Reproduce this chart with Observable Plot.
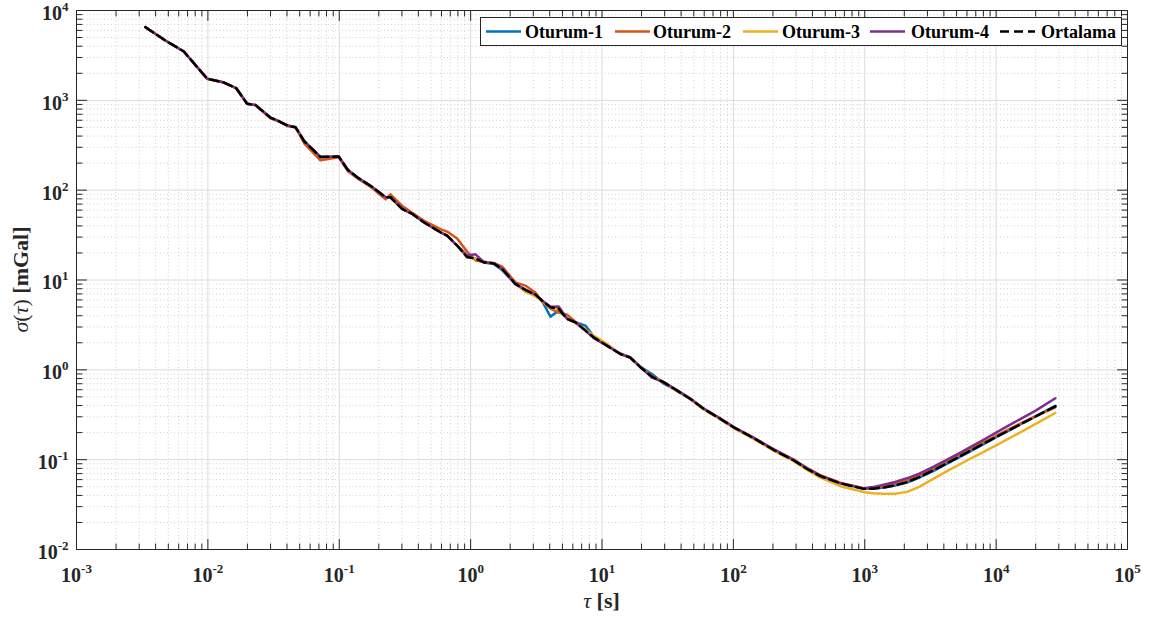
<!DOCTYPE html>
<html>
<head>
<meta charset="utf-8">
<script src="https://cdn.jsdelivr.net/npm/d3@7"></script>
<script src="https://cdn.jsdelivr.net/npm/@observablehq/plot@0.6"></script>
<style>
  html, body { margin: 0; padding: 0; background: #fff; }
  #chart svg { display: block; }
</style>
</head>
<body>
<div id="chart"></div>
<script>
// ---------------- data ----------------
const tau = [0.00335, 0.00475, 0.00656, 0.0099, 0.0130, 0.0164, 0.0199, 0.0230, 0.0299, 0.0351,
  0.0404, 0.0465, 0.0543, 0.0719, 0.099, 0.1164, 0.140, 0.176, 0.225, 0.2455,
  0.301, 0.359, 0.440, 0.589, 0.662, 0.789, 0.94, 1.09, 1.26, 1.50,
  1.74, 2.19, 2.61, 3.11, 3.50, 4.05, 4.68, 5.42, 6.28, 7.48,
  8.65, 10.9, 13.8, 16.4, 19.6, 24.0, 29.5, 37.3, 47.1, 59.4,
  79.6, 100.5, 143, 203, 288, 364, 459, 652, 982, 1150,
  1393, 1700, 2099, 2600, 3345, 4200, 5345, 6400, 7585, 8800,
  10160, 12500, 15280, 20000, 28240];

const ortalama = [6520, 4634, 3495, 1735, 1591, 1371, 915, 887, 643, 581,
  524, 501, 348, 234, 237, 168, 136, 110, 83.4, 83.4,
  61.9, 54.5, 43.9, 34.0, 31.2, 24.2, 18.0, 17.3, 15.7, 15.3,
  13.3, 9.05, 7.76, 6.88, 5.90, 4.97, 4.77, 3.69, 3.38, 2.73,
  2.30, 1.86, 1.50, 1.37, 1.07, 0.84, 0.726, 0.586, 0.474, 0.367,
  0.284, 0.229, 0.173, 0.128, 0.098, 0.0787, 0.0655, 0.0545, 0.0473, 0.0474,
  0.0490, 0.0518, 0.0562, 0.0640, 0.0764, 0.0908, 0.1096, 0.1262, 0.1442, 0.1618,
  0.181, 0.212, 0.247, 0.303, 0.393];

const oturum1 = [6520, 4634, 3495, 1735, 1591, 1371, 915, 887, 643, 581,
  524, 501, 348, 234, 237, 168, 136, 110, 83.4, 83.4,
  61.9, 54.5, 43.9, 34.0, 31.2, 24.2, 18.0, 17.3, 15.7, 15.1,
  12.8, 9.0, 7.8, 6.9, 5.8, 3.91, 4.55, 3.75, 3.40, 3.11,
  2.35, 1.86, 1.52, 1.37, 1.08, 0.90, 0.70, 0.586, 0.474, 0.367,
  0.284, 0.229, 0.173, 0.128, 0.098, 0.0787, 0.0655, 0.0545, 0.0475, 0.0476,
  0.0489, 0.0515, 0.0557, 0.0632, 0.0752, 0.0895, 0.108, 0.1245, 0.1425, 0.160,
  0.180, 0.211, 0.247, 0.304, 0.397];

const oturum2 = [6520, 4634, 3495, 1735, 1591, 1371, 915, 887, 630, 581,
  515, 501, 330, 215, 232, 162, 133, 107, 79, 90,
  67, 56, 45.8, 36.9, 34.6, 28.9, 20.7, 16.5, 16.0, 15.5,
  14.1, 9.42, 8.67, 7.24, 5.75, 4.80, 4.34, 4.12, 3.44, 2.80,
  2.28, 1.88, 1.50, 1.38, 1.08, 0.85, 0.73, 0.590, 0.478, 0.370,
  0.287, 0.231, 0.175, 0.130, 0.100, 0.0805, 0.0672, 0.0555, 0.0478, 0.0484,
  0.0505, 0.0538, 0.0585, 0.0665, 0.0800, 0.0950, 0.114, 0.131, 0.149, 0.167,
  0.186, 0.218, 0.252, 0.306, 0.382];

const oturum3 = [6520, 4634, 3495, 1735, 1591, 1371, 915, 887, 643, 581,
  524, 501, 348, 234, 237, 168, 136, 110, 83.4, 83.4,
  61.9, 54.5, 43.9, 34.0, 31.2, 24.2, 18.0, 17.3, 15.7, 15.3,
  13.3, 9.05, 7.40, 6.60, 5.80, 4.90, 4.70, 3.75, 3.30, 2.80,
  2.40, 1.95, 1.50, 1.37, 1.07, 0.84, 0.72, 0.580, 0.470, 0.362,
  0.280, 0.225, 0.170, 0.125, 0.096, 0.0770, 0.0630, 0.0507, 0.0437, 0.0424,
  0.0418, 0.0418, 0.0438, 0.0497, 0.0615, 0.0740, 0.0895, 0.1030, 0.117, 0.131,
  0.146, 0.172, 0.201, 0.250, 0.331];

const oturum4 = [6520, 4634, 3495, 1735, 1591, 1371, 915, 887, 643, 581,
  524, 501, 348, 234, 237, 168, 136, 110, 83.4, 83.4,
  61.9, 54.5, 43.9, 34.0, 31.2, 24.2, 18.7, 19.3, 15.8, 15.3,
  13.3, 9.05, 7.76, 6.88, 5.90, 5.05, 5.06, 3.70, 3.38, 2.73,
  2.25, 1.86, 1.50, 1.37, 1.07, 0.82, 0.73, 0.590, 0.478, 0.370,
  0.287, 0.231, 0.175, 0.130, 0.0995, 0.080, 0.0665, 0.0545, 0.0482, 0.0495,
  0.0525, 0.0565, 0.0620, 0.0700, 0.0835, 0.0995, 0.120, 0.139, 0.159, 0.180,
  0.203, 0.241, 0.283, 0.352, 0.482];

const seriesNames = ["Oturum-1", "Oturum-2", "Oturum-3", "Oturum-4", "Ortalama"];
const seriesValues = [oturum1, oturum2, oturum3, oturum4, ortalama];
const seriesColors = ["#0072BD", "#D95319", "#EDB120", "#7E2F8E", "#000000"];

const xMajor = [1e-3, 1e-2, 1e-1, 1e0, 1e1, 1e2, 1e3, 1e4, 1e5];
const xExponents = [-3, -2, -1, 0, 1, 2, 3, 4, 5];
const yMajor = [1e-2, 1e-1, 1e0, 1e1, 1e2, 1e3, 1e4];
const yExponents = [-2, -1, 0, 1, 2, 3, 4];

// ---------------- derived tables ----------------
const minorOf = majors => {
  const out = [];
  for (let i = 0; i < majors.length - 1; i++)
    for (let k = 2; k <= 9; k++) out.push(k * majors[i]);
  return out;
};
const xMinor = minorOf(xMajor);
const yMinor = minorOf(yMajor);

const rows = [];
seriesNames.forEach((name, s) => {
  tau.forEach((t, i) => rows.push({series: name, tau: t, sigma: seriesValues[s][i]}));
});

const W = 1149, H = 621;
const ML = 76, MR = 22, MT = 10, MB = 72;
const FONT = "'Liberation Serif', Tinos, 'Times New Roman', serif";
const AX = "#262626";

const tickShape = {draw(ctx, l) { ctx.moveTo(0, 0); ctx.lineTo(0, -l); }};
const tickMarks = (data, anchor, rotate, len) => Plot.vector(data, {
  ...(anchor === "bottom" || anchor === "top" ? {x: d => d} : {y: d => d}),
  frameAnchor: anchor, rotate, length: len, anchor: "start",
  shape: tickShape, stroke: AX, strokeWidth: 1
});

const lineMarks = seriesNames.map((name, s) =>
  Plot.line(rows.filter(r => r.series === name), {
    x: "tau", y: "sigma",
    stroke: seriesColors[s],
    strokeWidth: 2.5,
    strokeDasharray: name === "Ortalama" ? "9,5" : null,
    strokeLinejoin: "round"
  })
);

const plot = Plot.plot({
  width: W, height: H,
  marginLeft: ML, marginRight: MR, marginTop: MT, marginBottom: MB,
  style: {background: "#fff", fontFamily: FONT, overflow: "visible"},
  x: {type: "log", domain: [1e-3, 1e5]},
  y: {type: "log", domain: [1e-2, 1e4]},
  marks: [
    Plot.ruleX(xMinor, {stroke: "#c6c6c6", strokeWidth: 0.8, strokeDasharray: "1,2.5"}),
    Plot.ruleY(yMinor, {stroke: "#c6c6c6", strokeWidth: 0.8, strokeDasharray: "1,2.5"}),
    Plot.ruleX(xMajor, {stroke: "#dcdcdc", strokeWidth: 1}),
    Plot.ruleY(yMajor, {stroke: "#dcdcdc", strokeWidth: 1}),
    ...lineMarks,
    tickMarks(xMajor, "bottom", 0, 10),
    tickMarks(xMinor, "bottom", 0, 5.5),
    tickMarks(xMajor, "top", 180, 10),
    tickMarks(xMinor, "top", 180, 5.5),
    tickMarks(yMajor, "left", 90, 10),
    tickMarks(yMinor, "left", 90, 5.5),
    tickMarks(yMajor, "right", -90, 10),
    tickMarks(yMinor, "right", -90, 5.5),
    Plot.frame({stroke: AX, strokeWidth: 1}),
    Plot.axisX(xMajor, {
      anchor: "bottom", tickSize: 0, tickPadding: 18, label: null,
      tickFormat: (d) => "10^" + xExponents[xMajor.indexOf(d)],
      fontSize: 20, fontWeight: "bold", fill: AX
    }),
    Plot.axisY(yMajor, {
      anchor: "left", tickSize: 0, tickPadding: 8, label: null,
      tickFormat: (d) => "10^" + yExponents[yMajor.indexOf(d)],
      fontSize: 20, fontWeight: "bold", fill: AX, dy: 3
    })
  ]
});

const svg = d3.select(plot);

// turn "10^n" tick labels into 10 with a superscript
svg.selectAll('g[aria-label="x-axis tick label"] text, g[aria-label="y-axis tick label"] text').each(function () {
  const parts = this.textContent.split("^");
  const sel = d3.select(this);
  sel.text(parts[0])
    .style("font-family", FONT).style("font-weight", "bold")
    .style("font-size", "20px").style("font-variant", "normal");
  sel.append("tspan").attr("dy", "-9px").style("font-size", "13px").text(parts[1]);
});

// axis titles
const xt = svg.append("text")
  .attr("x", (ML + W - MR) / 2).attr("y", 608)
  .attr("text-anchor", "middle").attr("fill", AX)
  .style("font-family", FONT).style("font-size", "22px").style("font-weight", "bold");
xt.append("tspan").style("font-style", "italic").style("font-weight", "normal").text("τ");
xt.append("tspan").text(" [s]");

const yt = svg.append("text")
  .attr("transform", `translate(28,${(MT + H - MB) / 2}) rotate(-90)`)
  .attr("text-anchor", "middle").attr("fill", AX)
  .style("font-family", FONT).style("font-size", "22px").style("font-weight", "bold");
yt.append("tspan").style("font-style", "italic").style("font-weight", "normal").text("σ");
yt.append("tspan").style("font-weight", "normal").text("(");
yt.append("tspan").style("font-style", "italic").style("font-weight", "normal").text("τ");
yt.append("tspan").style("font-weight", "normal").text(")");
yt.append("tspan").text(" [mGal]");

// legend (inside the axes, top right)
const lg = svg.append("g").attr("aria-label", "legend");
lg.append("rect").attr("x", 480.5).attr("y", 17.5).attr("width", 641).attr("height", 28)
  .attr("fill", "#fff").attr("stroke", AX).attr("stroke-width", 1);
const legLineX = [486, 615, 743, 870, 1000];
const legTextX = [525, 653, 782, 911, 1041];
seriesNames.forEach((name, s) => {
  lg.append("line").attr("x1", legLineX[s]).attr("x2", legLineX[s] + 35)
    .attr("y1", 31.5).attr("y2", 31.5)
    .attr("stroke", seriesColors[s]).attr("stroke-width", 2.5)
    .attr("stroke-dasharray", name === "Ortalama" ? "9,5" : null);
  lg.append("text").attr("x", legTextX[s]).attr("y", 38)
    .attr("text-anchor", "start").attr("fill", "#000")
    .style("font-family", FONT).style("font-size", "18px").style("font-weight", "bold")
    .text(name);
});

document.getElementById("chart").appendChild(plot);
</script>
</body>
</html>
